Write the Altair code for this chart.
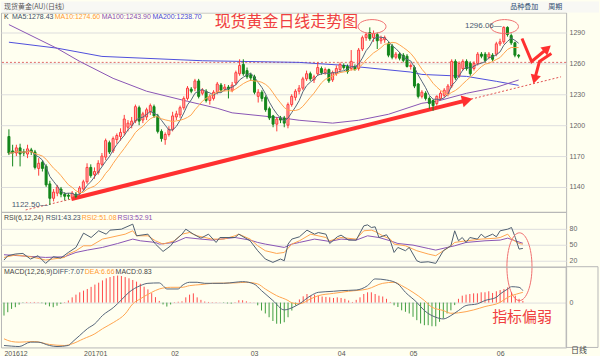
import altair as alt
import pandas as pd

# ---------------- data (bar index 0 = 2016-12-01) ----------------
opens = [1189,1175,1173,1178,1174,1172,1176,1174,1158,1164,
         1160,1143,1129,1134,1138,1133,1132,1130,1133,1134,
         1138,1145,1159,1152,1154,1162,1169,1183,1175,1186,
         1189,1193,1198,1200,1204,1217,1205,1208,1213,1218,
         1209,1194,1186,1191,1196,1208,1210,1217,1226,1235,
         1236,1243,1231,1233,1224,1226,1232,1239,1235,1237,
         1234,1241,1250,1259,1253,1249,1247,1228,1232,1227,
         1216,1209,1201,1207,1207,1200,1220,1227,1233,1236,
         1245,1250,1244,1250,1255,1251,1254,1244,1250,1254,
         1258,1257,1255,1257,1255,1274,1285,1290,1285,1288,
         1282,1283,1279,1277,1266,1269,1268,1267,1257,1256,
         1240,1228,1231,1226,1224,1221,1226,1229,1230,1238,
         1262,1248,1255,1262,1260,1255,1260,1269,1269,1266,
         1268,1269,1279,1281,1295,1287,1280,1268]
closes = [1173,1173,1178,1172,1173,1177,1174,1159,1163,1158,
          1142,1129,1135,1140,1133,1131,1131,1134,1131,1139,
          1145,1159,1151,1155,1163,1170,1185,1174,1187,1190,
          1193,1206,1202,1204,1218,1204,1211,1215,1219,1209,
          1194,1187,1191,1196,1209,1211,1217,1226,1236,1233,
          1243,1228,1234,1224,1228,1232,1240,1234,1237,1235,
          1239,1251,1258,1250,1247,1246,1232,1232,1226,1215,
          1207,1201,1206,1205,1202,1220,1228,1233,1236,1245,
          1250,1245,1247,1256,1251,1254,1243,1251,1255,1259,
          1256,1252,1262,1254,1273,1285,1288,1284,1289,1282,
          1284,1285,1268,1266,1269,1265,1263,1257,1258,1238,
          1228,1232,1226,1221,1219,1228,1231,1234,1238,1262,
          1246,1260,1262,1255,1250,1260,1269,1267,1263,1269,
          1264,1279,1281,1295,1288,1280,1268,1267]
highs = [1196,1181,1181,1182,1177,1181,1178,1176,1168,1166,
         1162,1146,1138,1142,1140,1135,1134,1136,1135,1141,
         1147,1163,1162,1159,1166,1173,1187,1185,1189,1192,
         1197,1210,1205,1208,1220,1219,1213,1217,1221,1220,
         1211,1196,1193,1199,1213,1214,1219,1228,1238,1237,
         1245,1245,1236,1235,1230,1234,1242,1241,1240,1239,
         1242,1253,1264,1264,1256,1251,1249,1235,1234,1229,
         1218,1210,1208,1209,1209,1222,1230,1235,1239,1247,
         1253,1252,1249,1261,1257,1256,1255,1253,1258,1261,
         1260,1259,1273,1259,1275,1287,1290,1295,1292,1290,
         1287,1287,1281,1279,1271,1271,1270,1269,1260,1258,
         1241,1234,1233,1228,1225,1229,1233,1236,1240,1264,
         1264,1262,1264,1264,1262,1262,1271,1271,1271,1271,
         1270,1281,1284,1296.06,1296,1289,1281,1269]
lows = [1171,1160,1170,1160,1170,1168,1171,1157,1151,1155,
        1140,1122.5,1126,1131,1130,1127,1128,1128,1129,1132,
        1136,1143,1149,1148,1152,1160,1166,1172,1173,1182,
        1185,1190,1194,1197,1202,1200,1202,1205,1210,1207,
        1192,1184,1181,1189,1194,1205,1207,1215,1224,1231,
        1233,1226,1229,1222,1220,1224,1230,1232,1233,1226,
        1232,1239,1248,1248,1245,1243,1230,1222,1223,1213,
        1205,1198,1194,1202,1198,1197,1218,1224,1230,1234,
        1243,1243,1241,1248,1249,1249,1241,1242,1248,1252,
        1254,1250,1253,1253,1253,1272,1282,1282,1281,1274,
        1279,1280,1266,1264,1264,1263,1261,1256,1254,1236,
        1226,1226,1224,1216,1214,1219,1224,1227,1228,1236,
        1244,1246,1253,1253,1248,1253,1258,1265,1261,1264,
        1262,1267,1277,1279,1286,1278,1266,1265]
macd_hist = [-6.2,-4.6,-3.0,-2.2,-1.0,-0.2,0.3,0.2,0.3,0.2,
             -0.3,-1.0,-1.8,-2.2,-1.5,-0.6,0.2,1.0,2.5,3.8,
             4.9,5.7,6.5,7.5,8.6,9.5,10.6,11.6,12.2,12.7,
             12.9,12.7,12.2,11.6,10.8,10.0,9.0,7.6,6.3,4.5,
             2.6,0.8,-0.9,-1.9,-0.9,0.2,0.4,0.6,2.5,3.8,
             4.4,2.5,1.3,0.5,0.3,0.2,0.2,0.1,-0.2,-0.4,
             -0.5,0.2,1.1,1.1,0.6,0.2,0.1,-1.3,-3.8,-5.2,
             -7.0,-8.8,-10.1,-10.1,-9.4,-7.0,-3.8,-1.4,1.5,3.0,
             4.1,3.3,3.8,3.3,2.9,2.7,2.5,2.2,2.5,2.2,
             1.8,1.0,0.3,1.3,2.5,4.1,4.9,4.9,4.1,3.3,
             2.9,1.8,0.3,-1.3,-2.1,-3.7,-4.4,-5.2,-6.8,-8.4,
             -10.0,-10.8,-10.8,-11.3,-11.3,-9.2,-7.6,-5.2,-3.7,-1.2,
             1.8,3.3,3.8,4.1,4.4,4.4,4.9,4.9,5.4,4.6,
             5.4,6.0,6.5,7.3,4.9,3.3,1.8,0.8]

month_pos = [0, 21, 44, 65, 88, 107, 130]
month_lbl = ["201612", "201701", "02", "03", "04", "05", "06"]

ma100_i = [0,13,19,28,37,48,56,60,74,78,87,94,102,111,115,123,131,137]
ma100_v = [1297.7,1274.5,1262,1245.5,1233,1223.2,1216.4,1212,1206.8,1204.8,1202,1204.8,1210.6,1221.3,1223.2,1231,1236.8,1243.9]
ma200_i = [0,13,25,52,78,89,108,111,123,131,137]
ma200_v = [1280.6,1274.8,1266.8,1262.6,1261,1258.4,1251.6,1249.3,1247.4,1242.6,1238.7]

rsi1_i = [0,1,3,5,7,9,11,13,15,17,19,21,23,25,27,28,31,34,35,38,40,42,44,45,47,48,50,52,54,56,57,61,62,65,67,69,71,73,74,75,76,78,
          80,82,83,85,86,88,89,91,93,95,96,97,98,99,101,102,103,104,106,107,109,110,112,114,116,118,119,120,121,122,123,125,126,127,129,130,131,133,134,135,136,137]
rsi1_v = [21.3,29.4,32.6,33.7,23.2,29.4,15,27.5,25,35.6,45,71.9,63.7,76.3,70,77.5,79.4,88.8,66.9,70,
          51.3,37.5,48,57.5,70,79.4,70,62.5,70,54.4,63.7,63.7,70,57.5,38.8,23.2,16.9,23.2,20,51.3,60.7,65,
          77.5,70,73,70,52.4,65,68.1,58.8,58.8,85.6,87.5,82.5,83.8,63.7,68.8,57.5,35.6,45,38.8,45,
          20,16.9,18,15,38.8,48.1,76.3,57.5,63.7,54.4,63.7,60.7,70,63.7,70,65,76.3,79.4,82.5,63.7,41.9,43.2]
rsi2_i = [0,3,7,11,16,17,19,21,23,26,28,32,34,35,38,40,42,45,47,49,51,53,55,58,61,62,65,67,69,72,74,76,78,
          81,85,86,89,93,95,97,98,100,102,103,106,109,112,114,116,118,119,122,126,130,131,133,134,136,137]
rsi2_v = [26.2,30.7,27.5,21.3,26.2,32.6,38.8,48.1,48.1,60.7,63.7,70,76.3,66.9,66.9,57.5,51.3,57.5,70,73.1,
          66.9,63.7,60.7,60.7,66.9,70,60.7,48.1,38.8,33.7,35.6,51.3,57.5,
          70,63.7,57.5,63.7,60.7,76.3,77.5,75,66.9,60.7,51.3,48.1,38.8,32.6,29.4,38.8,48.1,54.4,57.5,60.7,62.5,63.7,70,60.7,52.4,51.1]
rsi3_i = [0,4,11,16,19,22,26,30,34,36,40,41,45,48,52,55,61,65,67,69,74,76,78,
          82,86,89,93,96,99,102,104,108,112,114,117,119,122,127,131,133,135,137]
rsi3_v = [31.3,29.4,26.2,27.5,35.6,40,45,52.4,60.7,57.5,54.4,51.3,54.4,63.7,60.7,58.8,63.7,58.8,54.4,51.3,45,51.3,54.4,
          60.7,56.3,60.7,58.8,66.9,63.7,57.5,52.4,49.4,43.1,40,45,48.1,54.4,57.5,58.8,62.5,57.5,52.9]

diff_i = [0,2,4,7,9,12,14,17,18,20,22,24,26,29,31,33,36,38,41,42,43,46,47,49,51,53,55,58,61,63,66,68,71,74,76,78,
          81,83,87,89,93,96,98,101,104,106,109,111,114,116,118,120,122,125,127,130,131,133,134,136,137]
diff_v = [-20.5,-20.8,-21,-18.9,-18.9,-20.5,-21,-20.5,-18.9,-15.7,-12.5,-10.1,-6.2,-2.2,1.3,4.9,8.1,9.2,9.4,8.1,
          6.5,6.5,8.1,9.7,9.7,9.2,9.2,9.2,9.7,10,8.9,5.7,1,-3.5,-2.5,-0.6,
          3.3,4.9,5.4,5.7,6,8.1,11.3,10.8,8.9,4.9,0.1,-3.8,-7,-7.8,-6.2,-3.8,-1.4,-0.6,1,2.5,4.1,6.5,7.6,7.3,5.7]
dea_i = [0,2,4,8,12,16,18,21,24,26,29,32,34,36,39,41,44,47,49,52,55,61,64,67,69,72,75,76,78,
         81,83,87,91,96,100,103,105,108,111,113,116,118,120,124,127,131,133,136,137]
dea_v = [-17.3,-18.6,-18.9,-18.6,-20,-20.5,-19.7,-17.3,-14.9,-12.5,-9.4,-5.4,-0.6,1.8,4.9,6.5,7.3,7.3,8.1,8.6,
         9.2,9.4,9.7,8.9,6.5,3.3,1,-0.1,-0.6,
         1.8,3.3,4.4,5.4,6.5,9.2,9.7,8.1,4.9,1,-2.2,-3.8,-5.1,-4.9,-3.5,-1.9,0.1,2.5,4.4,4.9]

# annotations (in bar-index / value coordinates)
support_level = [1261]
trend_solid_i = [16.8, 123.2]
trend_solid_v = [1128.3, 1224.4]
trend_dot_l_i = [4.5, 16.8]
trend_dot_l_v = [1117.7, 1128.3]
trend_dot_r_i = [123.2, 148.4]
trend_dot_r_v = [1224.4, 1247.0]
zz1_i = [137.9, 140.5, 144.7]
zz1_v = [1284.2, 1261.9, 1274.5]
zz2_i = [145.8, 142.6, 141.3]
zz2_v = [1269.7, 1261.9, 1244.5]
top_circles_i = [97.6, 133.2]
top_circles_v = [1295.8, 1295.8]

# ---------------- styling ----------------
FONT = "Liberation Sans, Arial, sans-serif"
CJK = "Noto Sans CJK SC"
BG = "#fffff0"
UP = "#ff3b3b"
UP_FILL = "#ffb8b8"
DN = "#13861a"
GRID = "#dedede"
ANN = "#ff3030"
FS = 7

XDOM = [-0.79, 148.42]
PDOM = [1115.8, 1309.4]
RDOM = [8.75, 111.9]
MDOM = [-21.43, 17.14]
W, HP, HR, HM = 567, 200, 55, 81

xs = alt.Scale(domain=XDOM, nice=False, zero=False)


def X(f="i"):
    return alt.X(f + ":Q", scale=xs, axis=None)


labexpr = ""
for p, l in zip(month_pos, month_lbl):
    labexpr += "datum.value == %d ? '%s' : " % (p, l)
labexpr += "''"
x_axis = alt.Axis(values=month_pos, labelExpr=labexpr, orient="bottom", ticks=False, domain=False,
                  grid=False, labelAlign="left", labelFontSize=FS, labelColor="#555555", labelFont=FONT,
                  labelPadding=2, labelFlush=False, labelOverlap=False, title=None)


def XM(f="i"):
    return alt.X(f + ":Q", scale=xs, axis=x_axis)


def yaxis(vals):
    return alt.Axis(orient="right", values=vals, format="d", grid=True, gridColor=GRID, ticks=False,
                    domain=False, labelFontSize=FS, labelColor="#666666", labelFont=FONT, labelPadding=3,
                    title=None)


p_axis = yaxis([1140, 1170, 1200, 1230, 1260, 1290])
r_axis = yaxis([20, 50, 80])
m_axis = yaxis([0])


def PY(f):
    return alt.Y(f + ":Q", scale=alt.Scale(domain=PDOM, nice=False, zero=False), axis=p_axis)


def RY(f):
    return alt.Y(f + ":Q", scale=alt.Scale(domain=RDOM, nice=False, zero=False), axis=r_axis)


def MY(f):
    return alt.Y(f + ":Q", scale=alt.Scale(domain=MDOM, nice=False, zero=False), axis=m_axis)


def label(text, x, y, color, size=FS, font=FONT, align="left"):
    return alt.Chart(pd.DataFrame({"t": [text]})).mark_text(
        align=align, baseline="middle", fontSize=size, font=font, color=color
    ).encode(x=alt.value(x), y=alt.value(y), text="t:N")


def line_df(i, v):
    return pd.DataFrame({"i": i, "v": v})


up_cond = "datum.close >= datum.open"
cdf = pd.DataFrame({"i": list(range(len(closes))), "open": opens, "high": highs,
                    "low": lows, "close": closes})

# ---------------- header band (window chrome above the price panel) ----------------
header = alt.Chart(pd.DataFrame({"t": [""]})).mark_rect(fill="#f8f8f4", stroke=None).encode(
    x=alt.value(0), x2=alt.value(600), y=alt.value(-11), y2=alt.value(0))

# ---------------- price panel ----------------
support = alt.Chart(pd.DataFrame({"v": support_level})).mark_rule(
    color="#e06868", strokeDash=[2, 2], strokeWidth=1).encode(y=PY("v"))
ma200 = alt.Chart(line_df(ma200_i, ma200_v)).mark_line(color="#4f4fdc", strokeWidth=1).encode(x=X(), y=PY("v"))
ma100 = alt.Chart(line_df(ma100_i, ma100_v)).mark_line(color="#8a55b5", strokeWidth=1).encode(x=X(), y=PY("v"))
tdl = alt.Chart(line_df(trend_dot_l_i, trend_dot_l_v)).mark_line(
    color="#e05050", strokeDash=[2, 2], strokeWidth=1).encode(x=X(), y=PY("v"))
tdr = alt.Chart(line_df(trend_dot_r_i, trend_dot_r_v)).mark_line(
    color="#e05050", strokeDash=[2, 2], strokeWidth=1).encode(x=X(), y=PY("v"))
tsol = alt.Chart(line_df(trend_solid_i, trend_solid_v)).mark_line(
    color=ANN, strokeWidth=4).encode(x=X(), y=PY("v"))
thead = alt.Chart(line_df(trend_solid_i[-1:], trend_solid_v[-1:])).mark_point(
    shape="triangle-right", filled=True, size=150, angle=346, color=ANN, opacity=1).encode(x=X(), y=PY("v"))

wick = alt.Chart(cdf).mark_rule(strokeWidth=1).encode(
    x=X(), y=PY("low"), y2="high:Q",
    color=alt.condition(up_cond, alt.value(UP), alt.value(DN)))
body = alt.Chart(cdf).mark_bar(size=2, strokeWidth=1).encode(
    x=X(), y=PY("open"), y2="close:Q",
    fill=alt.condition(up_cond, alt.value(UP_FILL), alt.value(DN)),
    stroke=alt.condition(up_cond, alt.value(UP), alt.value(DN)))
ma5 = alt.Chart(cdf).transform_window(ma5="mean(close)", frame=[-4, 0], sort=[alt.SortField("i")]).mark_line(
    color="#55657a", strokeWidth=1).encode(x=X(), y=PY("ma5"))
ma10 = alt.Chart(cdf).transform_window(ma10="mean(close)", frame=[-9, 0], sort=[alt.SortField("i")]).mark_line(
    color="#ffa54f", strokeWidth=1).encode(x=X(), y=PY("ma10"))

zz1 = alt.Chart(line_df(zz1_i, zz1_v)).mark_line(color=ANN, strokeWidth=3).encode(x=X(), y=PY("v"))
zz2 = alt.Chart(line_df(zz2_i, zz2_v)).mark_line(color=ANN, strokeWidth=3).encode(x=X(), y=PY("v"))
zzh1 = alt.Chart(line_df(zz1_i[-1:], zz1_v[-1:])).mark_point(
    shape="triangle-right", filled=True, size=110, angle=320, color=ANN, opacity=1).encode(x=X(), y=PY("v"))
zzh2 = alt.Chart(line_df(zz2_i[-1:], zz2_v[-1:])).mark_point(
    shape="triangle-right", filled=True, size=110, angle=105, color=ANN, opacity=1).encode(x=X(), y=PY("v"))

ELL_W = "M -1 0 A 1 0.5 0 1 1 1 0 A 1 0.5 0 1 1 -1 0 Z"
ELL_T = "M 0 -1 A 0.37 1 0 1 1 0 1 A 0.37 1 0 1 1 0 -1 Z"
circles = alt.Chart(line_df(top_circles_i, top_circles_v)).mark_point(
    shape=ELL_W, size=784, filled=False, strokeWidth=1, color="#f07070", opacity=1).encode(x=X(), y=PY("v"))

hi_i = highs.index(max(highs))
lo_i = lows.index(min(lows))
hi_lab = alt.Chart(pd.DataFrame({"i": [hi_i], "v": [max(highs)], "t": ["%.2f\u2014" % max(highs)]})).mark_text(
    align="right", baseline="middle", dx=-2, fontSize=FS + 1, font=FONT, color="#4a5a72").encode(x=X(), y=PY("v"), text="t:N")
lo_lab = alt.Chart(pd.DataFrame({"i": [lo_i], "v": [min(lows)], "t": ["%.2f\u2014" % min(lows)]})).mark_text(
    align="right", baseline="middle", dx=-2, fontSize=FS + 1, font=FONT, color="#4a5a72").encode(x=X(), y=PY("v"), text="t:N")

title_txt = alt.Chart(pd.DataFrame({"i": [55.3], "v": [1300.0], "t": ["现货黄金日线走势图"]})).mark_text(
    align="left", baseline="middle", fontSize=16, font=CJK, color="#f04040").encode(x=X(), y=PY("v"), text="t:N")

price = alt.layer(
    header,
    support, ma200, ma100, tdl, tdr, tsol, thead, wick, body, ma5, ma10, zz1, zz2, zzh1, zzh2, circles,
    hi_lab, lo_lab, title_txt,
    label("现货黄金(AU)(日线)", 3, -5.5, "#555555", size=7, font=CJK),
    label("品种叠加", 511, -5.5, "#2d4d70", size=7, font=CJK),
    label("周期", 549, -5.5, "#2d4d70", size=7, font=CJK),
    label("K", 3, 4, "#333333"),
    label("MA5:1278.43", 11, 4, "#405068"),
    label("MA10:1274.60", 54, 4, "#ff9a30"),
    label("MA100:1243.90", 101, 4, "#8a50b0"),
    label("MA200:1238.70", 152, 4, "#4a4ad8"),
).properties(width=W, height=HP)

# ---------------- RSI panel ----------------
r1 = alt.Chart(line_df(rsi1_i, rsi1_v)).mark_line(color="#4f5f70", strokeWidth=1).encode(x=X(), y=RY("v"))
r2 = alt.Chart(line_df(rsi2_i, rsi2_v)).mark_line(color="#ffa54f", strokeWidth=1).encode(x=X(), y=RY("v"))
r3 = alt.Chart(line_df(rsi3_i, rsi3_v)).mark_line(color="#8a55b5", strokeWidth=1).encode(x=X(), y=RY("v"))
tall = alt.Chart(pd.DataFrame({"i": [136.1], "v": [RDOM[0]]})).mark_point(
    shape=ELL_T, size=4624, filled=False, strokeWidth=1, color="#f07070", opacity=1).encode(x=X(), y=RY("v"))
rsi = alt.layer(
    r3, r2, r1, tall,
    label("RSI(6,12,24)", 3, 6, "#444444"),
    label("RSI1:43.23", 45, 6, "#405068"),
    label("RSI2:51.08", 81, 6, "#ff9a30"),
    label("RSI3:52.91", 117, 6, "#8a50b0"),
).properties(width=W, height=HR)

# ---------------- MACD panel ----------------
hdf = pd.DataFrame({"i": list(range(len(macd_hist))), "hist": macd_hist, "zero": [0] * len(macd_hist)})
hist = alt.Chart(hdf).mark_rule(strokeWidth=1).encode(
    x=XM(), y=MY("zero"), y2="hist:Q",
    color=alt.condition("datum.hist > 0", alt.value("#ff4a4a"), alt.value("#3e9e3e")))
dif = alt.Chart(line_df(diff_i, diff_v)).mark_line(color="#55657a", strokeWidth=1, interpolate="monotone").encode(x=XM(), y=MY("v"))
dea = alt.Chart(line_df(dea_i, dea_v)).mark_line(color="#ffa54f", strokeWidth=1, interpolate="monotone").encode(x=XM(), y=MY("v"))
weak = alt.Chart(pd.DataFrame({"i": [128.9], "v": [-6.8], "t": ["指标偏弱"]})).mark_text(
    align="left", baseline="middle", fontSize=15, font=CJK, color="#f04040").encode(x=XM(), y=MY("v"), text="t:N")
side_box = alt.Chart(pd.DataFrame({"t": [""]})).mark_rect(fill=None, stroke="#b8b8b8", strokeWidth=1).encode(
    x=alt.value(567), x2=alt.value(599), y=alt.value(0), y2=alt.value(HM))
macd = alt.layer(
    hist, dea, dif, weak, side_box,
    label("MACD(12,26,9)", 3, 5, "#444444"),
    label("DIFF:7.07", 52, 5, "#405068"),
    label("DEA:6.66", 84, 5, "#ff9a30"),
    label("MACD:0.83", 115, 5, "#444444"),
    label("日线", 572, 85, "#444444", size=8, font=CJK),
).properties(width=W, height=HM)

chart = alt.vconcat(price, rsi, macd, spacing=0, bounds="flush").resolve_scale(
    x="independent", y="independent").resolve_axis(x="independent", y="independent").properties(
    padding=0, background=BG,
).configure_view(stroke="#b8b8b8", strokeWidth=1)

chart.save("out.html", embed_options={"renderer": "svg", "actions": False})
